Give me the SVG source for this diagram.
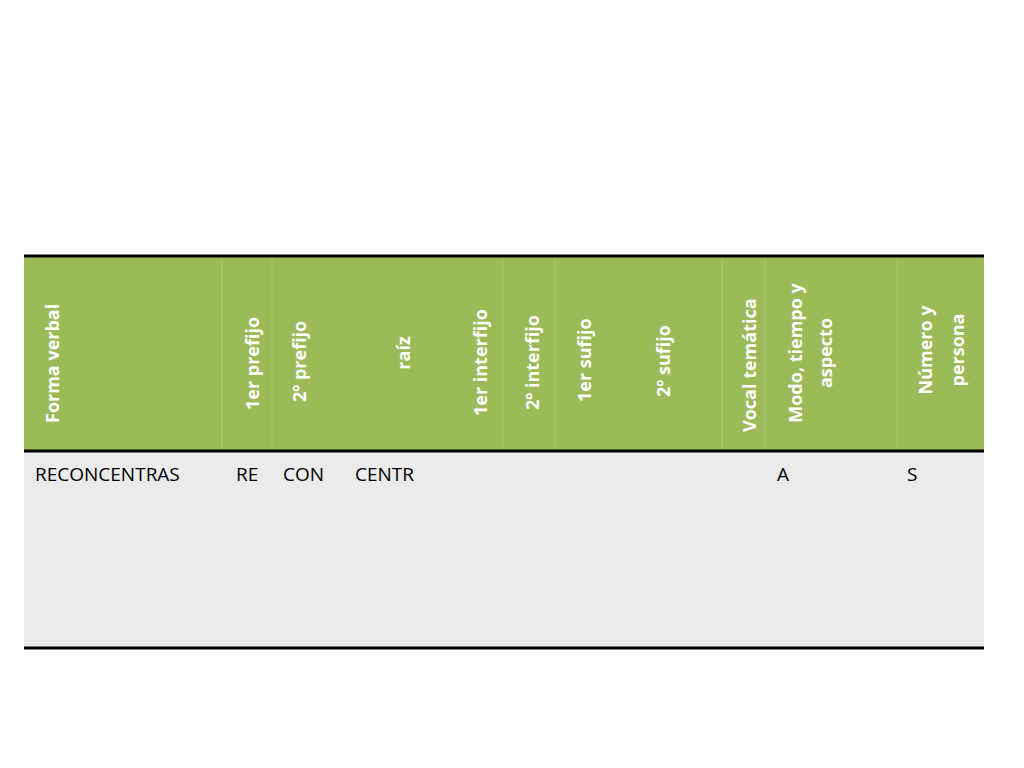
<svg xmlns="http://www.w3.org/2000/svg" width="1024" height="768" viewBox="0 0 1024 768">
<style>
.h{font-family:"Open Sans","Liberation Sans",sans-serif;font-weight:bold;font-size:18px;fill:#fff}
.b{font-family:"Open Sans","Liberation Sans",sans-serif;font-size:19px;fill:#000}
.sep{stroke:#a9c56e;stroke-width:1}
.rule{stroke:#000;stroke-width:3}
</style>
<rect width="1024" height="768" fill="#fff"/>
<g id="header">
<rect x="24" y="256" width="960" height="195" fill="#9bbb59"/>
<g class="sep">
<line x1="222" y1="256" x2="222" y2="451"/><line x1="272" y1="256" x2="272" y2="451"/>
<line x1="503" y1="256" x2="503" y2="451"/><line x1="555" y1="256" x2="555" y2="451"/>
<line x1="722" y1="256" x2="722" y2="451"/><line x1="765" y1="256" x2="765" y2="451"/>
<line x1="897" y1="256" x2="897" y2="451"/>
</g>
<text class="h" transform="translate(59,423) rotate(-90)">Forma verbal</text>
<text class="h" transform="translate(259,410) rotate(-90)">1er prefijo</text>
<text class="h" transform="translate(306,402) rotate(-90)">2º prefijo</text>
<text class="h" text-anchor="middle" transform="translate(410,353) rotate(-90)">raíz</text>
<text class="h" transform="translate(487,416) rotate(-90)">1er interfijo</text>
<text class="h" transform="translate(539,410) rotate(-90)">2º interfijo</text>
<text class="h" transform="translate(591,402) rotate(-90)">1er sufijo</text>
<text class="h" transform="translate(670,397) rotate(-90)">2º sufijo</text>
<text class="h" transform="translate(756,432) rotate(-90)">Vocal temática</text>
<text class="h" text-anchor="middle" transform="translate(802,353) rotate(-90)">Modo, tiempo y</text>
<text class="h" text-anchor="middle" transform="translate(832,353) rotate(-90)">aspecto</text>
<text class="h" text-anchor="middle" transform="translate(932,350) rotate(-90)">Número y</text>
<text class="h" text-anchor="middle" transform="translate(964,350) rotate(-90)">persona</text>
</g>
<g id="body">
<rect x="24" y="451" width="960" height="197" fill="#ebebeb"/>
<text class="b" x="35" y="481">RECONCENTRAS</text>
<text class="b" x="236" y="481">RE</text>
<text class="b" x="283" y="481">CON</text>
<text class="b" x="355" y="481">CENTR</text>
<text class="b" x="777" y="481">A</text>
<text class="b" x="907" y="481">S</text>
</g>
<g id="rules" class="rule">
<line x1="24" y1="256" x2="984" y2="256"/>
<line x1="24" y1="451" x2="984" y2="451"/>
<line x1="24" y1="648" x2="984" y2="648"/>
</g>
</svg>
